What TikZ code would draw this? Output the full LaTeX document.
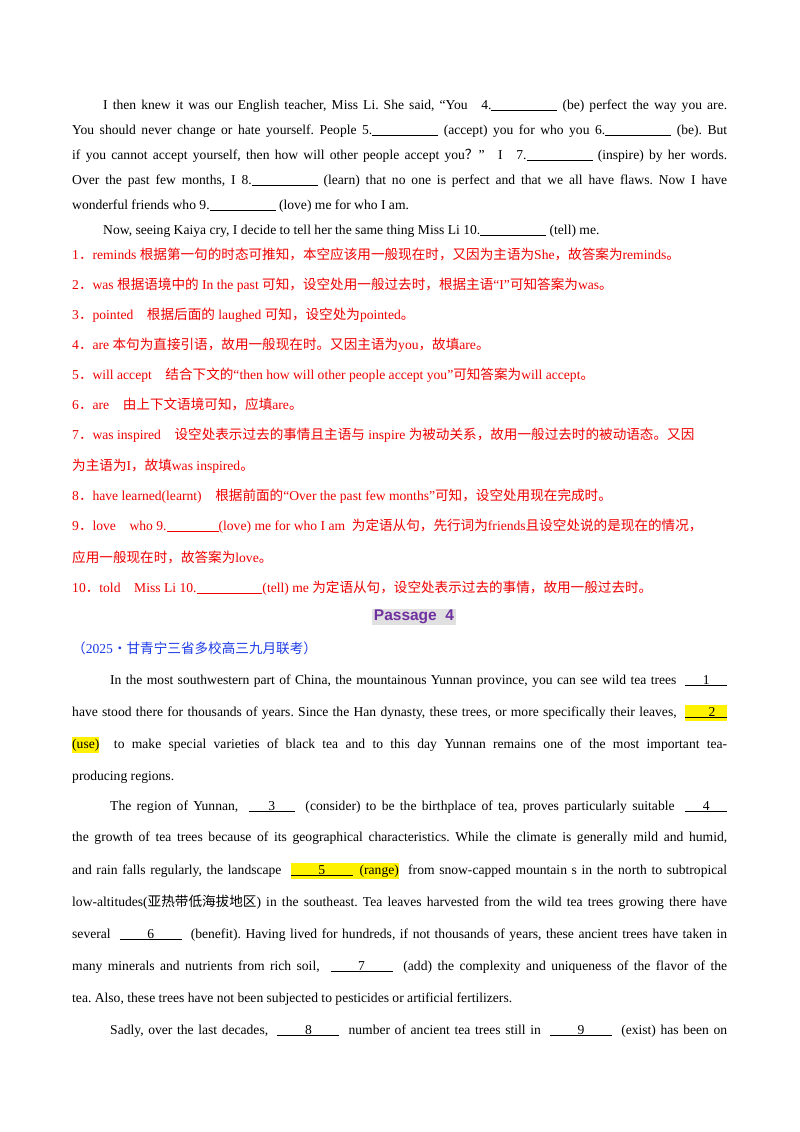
\documentclass[tikz,border=0pt]{standalone}
\usepackage{fontspec}
\setmainfont{Liberation Serif}
\newfontfamily\zhf{Noto Sans CJK SC}
\newfontfamily\sansb{Liberation Sans}
\newcommand{\zh}[1]{{\zhf #1}}
\newcommand{\blk}{\underline{\makebox[66pt]{}}}
\newcommand{\nb}[2][46pt]{\underline{\makebox[#1]{\hfill#2\hfill}}}
\newcommand{\hl}[1]{{\setlength{\fboxsep}{0pt}\colorbox{yellow}{\strut #1}}}
\newcommand{\jl}[2]{\parbox[b]{#1}{\parfillskip=0pt\relax #2}}
\definecolor{ansred}{RGB}{238,0,0}
\definecolor{srcblue}{RGB}{30,60,230}
\definecolor{pcol}{RGB}{112,48,160}
\frenchspacing
\begin{document}
\begin{tikzpicture}[x=1pt,y=-1pt,
  ln/.style={anchor=base west,inner sep=0pt,font=\fontsize{13.6}{16}\selectfont},
  rd/.style={ln,text=ansred}]
\useasboundingbox[fill=white] (0,0) rectangle (800,1132);
% paragraph 1
\node[ln] (a1) at (103,109) {\jl{624pt}{I then knew it was our English teacher, Miss Li. She said, “You\quad 4.\blk\ (be) perfect the way you are.}};
\node[ln] (a2) at (72,134) {\jl{655pt}{You should never change or hate yourself. People 5.\blk\ (accept) you for who you 6.\blk\ (be). But}};
\node[ln] (a3) at (72,159) {\jl{655pt}{if you cannot accept yourself, then how will other people accept you\zh{？}”\quad I\quad 7.\blk\ (inspire) by her words.}};
\node[ln] (a4) at (72,184) {\jl{655pt}{Over the past few months, I 8.\blk\ (learn) that no one is perfect and that we all have flaws. Now I have}};
\node[ln] (a5) at (72,209) {wonderful friends who 9.\blk\ (love) me for who I am.};
\node[ln] (a6) at (103,234) {Now, seeing Kaiya cry, I decide to tell her the same thing Miss Li 10.\blk\ (tell) me.};
% answers
\node[rd] (r1) at (72,259) {1\zh{．}reminds \zh{根据第一句的时态可推知，本空应该用一般现在时，又因为主语为}She\zh{，故答案为}reminds\zh{。}};
\node[rd] (r2) at (72,289) {2\zh{．}was \zh{根据语境中的} In the past \zh{可知，设空处用一般过去时，根据主语}“I”\zh{可知答案为}was\zh{。}};
\node[rd] (r3) at (72,319) {3\zh{．}pointed\quad \zh{根据后面的} laughed \zh{可知，设空处为}pointed\zh{。}};
\node[rd] (r4) at (72,349) {4\zh{．}are \zh{本句为直接引语，故用一般现在时。又因主语为}you\zh{，故填}are\zh{。}};
\node[rd] (r5) at (72,379) {5\zh{．}will accept\quad \zh{结合下文的}“then how will other people accept you”\zh{可知答案为}will accept\zh{。}};
\node[rd] (r6) at (72,409) {6\zh{．}are\quad \zh{由上下文语境可知，应填}are\zh{。}};
\node[rd] (r7) at (72,439) {7\zh{．}was inspired\quad \zh{设空处表示过去的事情且主语与} inspire \zh{为被动关系，故用一般过去时的被动语态。又因}};
\node[rd] (r7b) at (72,470) {\zh{为主语为}I\zh{，故填}was inspired\zh{。}};
\node[rd] (r8) at (72,500) {8\zh{．}have learned(learnt)\quad \zh{根据前面的}“Over the past few months”\zh{可知，设空处用现在完成时。}};
\node[rd] (r9) at (72,530) {9\zh{．}love\quad who 9.\underline{\makebox[52pt]{}}(love) me for who I am\ \ \zh{为定语从句，先行词为}friends\zh{且设空处说的是现在的情况，}};
\node[rd] (r9b) at (72,562) {\zh{应用一般现在时，故答案为}love\zh{。}};
\node[rd] (r10) at (72,592) {10\zh{．}told\quad Miss Li 10.\underline{\makebox[66pt]{}}(tell) me \zh{为定语从句，设空处表示过去的事情，故用一般过去时。}};
% passage 4
\node[fill=black!12,inner sep=1.5pt,text=pcol,font=\sansb\bfseries\fontsize{15.5}{18}\selectfont] (p4) at (414,617) {Passage\ \ 4};
\node[ln,text=srcblue] (src) at (72,653) {\zh{（}2025\zh{·甘青宁三省多校高三九月联考）}};
\node[ln] (b1) at (110,684) {\jl{617pt}{In the most southwestern part of China, the mountainous Yunnan province, you can see wild tea trees \ \nb[42pt]{1}}};
\node[ln] (b2) at (72,716) {\jl{655pt}{have stood there for thousands of years. Since the Han dynasty, these trees, or more specifically their leaves, \ \hl{\nb[42pt]{\hfill 2}}}};
\node[ln] (b3) at (72,748) {\jl{655pt}{\hl{(use)}\ \ to make special varieties of black tea and to this day Yunnan remains one of the most important tea-}};
\node[ln] (b4) at (72,780) {producing regions.};
\node[ln] (b5) at (110,810) {\jl{617pt}{The region of Yunnan, \ \nb{3}\ \ (consider) to be the birthplace of tea, proves particularly suitable \ \nb[42pt]{4}}};
\node[ln] (b6) at (72,841) {\jl{655pt}{the growth of tea trees because of its geographical characteristics. While the climate is generally mild and humid,}};
\node[ln] (b7) at (72,874) {\jl{655pt}{and rain falls regularly, the landscape \ \hl{\nb[62pt]{5}\ \ (range)}\ \ from snow-capped mountain s in the north to subtropical}};
\node[ln] (b8) at (72,906) {\jl{655pt}{low-altitudes(\zh{亚热带低海拔地区}) in the southeast. Tea leaves harvested from the wild tea trees growing there have}};
\node[ln] (b9) at (72,938) {\jl{655pt}{several \ \nb[62pt]{6}\ \ (benefit). Having lived for hundreds, if not thousands of years, these ancient trees have taken in}};
\node[ln] (b10) at (72,970) {\jl{655pt}{many minerals and nutrients from rich soil, \ \nb[62pt]{7}\ \ (add) the complexity and uniqueness of the flavor of the}};
\node[ln] (b11) at (72,1002) {tea. Also, these trees have not been subjected to pesticides or artificial fertilizers.};
\node[ln] (b12) at (110,1034) {\jl{617pt}{Sadly, over the last decades, \ \nb[62pt]{8}\ \ number of ancient tea trees still in \ \nb[62pt]{9}\ \ (exist) has been on}};
\end{tikzpicture}
\end{document}
